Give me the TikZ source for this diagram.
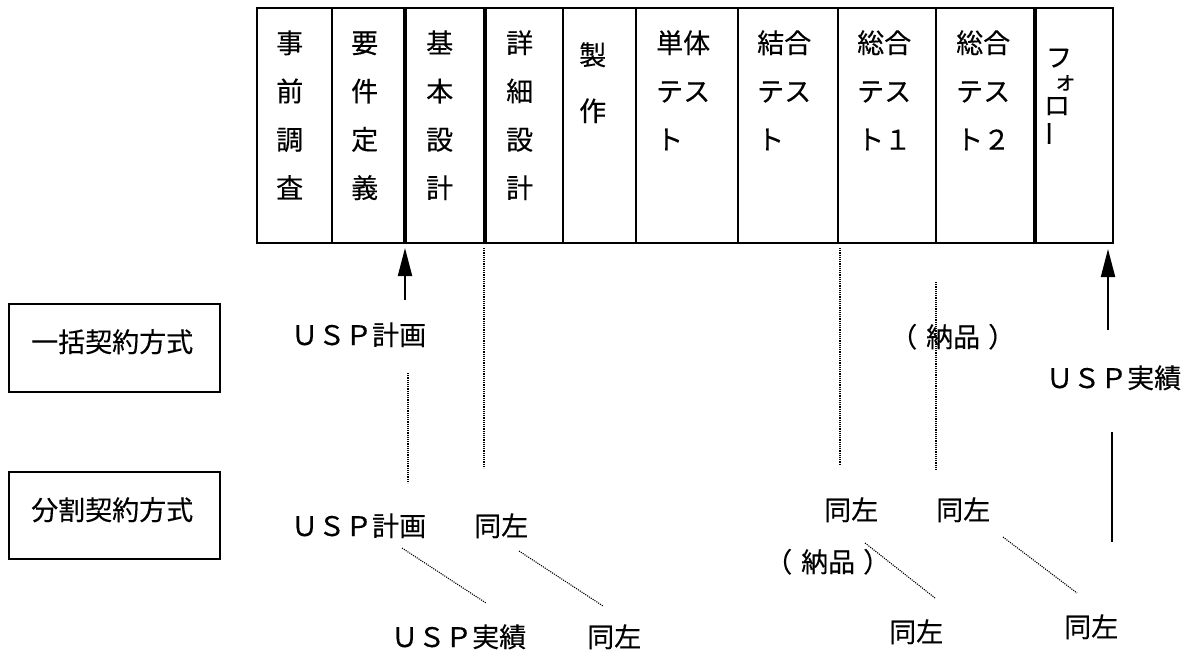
\documentclass[tikz,border=0pt]{standalone}
\usepackage{fontspec}
\setmainfont{Noto Sans CJK JP}[FakeBold=0.3]
\usetikzlibrary{arrows.meta}
\newcommand\colchars[3]{%
  \foreach \c [count=\i] in {#3} {
    \node[txt] (#1-\i) at (#2,{43+48.3*(\i-1)+10}) {\c};
  }%
}
\begin{document}
\begin{tikzpicture}[x=1pt,y=-1pt,
  txt/.style={anchor=base west,inner sep=0pt,font=\fontsize{27}{32}\selectfont},
  ktxt/.style={anchor=center,inner sep=0pt,font=\fontsize{26}{30}\selectfont},
  frame/.style={draw,line width=2pt,inner sep=0pt},
  grid/.style={line width=2pt},
  heavy/.style={line width=4pt},
  dots/.style={line width=1.1pt,dash pattern=on 1.1pt off 1.1pt},
  solid line/.style={line width=2pt},
  arr/.style={line width=2pt,-{Triangle[length=28pt,width=14pt]}},
]
\useasboundingbox (0,0) rectangle (1196,651);

% ---- phase table ----
\node[frame,anchor=north west,minimum width=856pt,minimum height=235pt] (tbl) at (256,7) {};
\foreach \x in {332,563,636,738,838,936} \draw[grid] (\x,7) -- (\x,242);
\foreach \x in {405,485,1035} \draw[heavy] (\x,7) -- (\x,242);

\colchars{c1}{276}{事,前,調,査}
\colchars{c2}{351}{要,件,定,義}
\colchars{c3}{426}{基,本,設,計}
\colchars{c4}{506}{詳,細,設,計}
\node[txt] (c5-1) at (579,65) {製};
\node[txt] (c5-2) at (579,121) {作};
\colchars{c6}{656}{単体,テス,ト}
\colchars{c7}{757}{結合,テス,ト}
\colchars{c8}{857}{総合,テス,ト１}
\colchars{c9}{956}{総合,テス,ト２}
\node[ktxt] (c10-1) at (1059,58) {フ};
\node[ktxt,font=\fontsize{23}{26}\selectfont] (c10-2) at (1065,83) {ォ};
\node[ktxt] (c10-3) at (1057,106) {ロ};
\node[ktxt,rotate=90] (c10-4) at (1053.5,133.5) {ー};

% ---- contract type boxes ----
\node[frame,minimum width=211pt,minimum height=88pt] (box1) at (114.5,348) {};
\node[txt] (lab1) at (31,352) {一括契約方式};
\node[frame,minimum width=211pt,minimum height=87pt] (box2) at (114.5,515.5) {};
\node[txt] (lab2) at (31,520) {分割契約方式};

% ---- upper row (lump-sum) ----
\node[txt] (uplan1) at (291,345) {ＵＳＰ計画};
\node[txt] (deliv1) at (890,347) {（\kern9pt 納品\kern8pt ）};
\node[txt] (uact1) at (1046,388) {ＵＳＰ実績};

% ---- lower rows (split) ----
\node[txt] (uplan2) at (291,536) {ＵＳＰ計画};
\node[txt] (same1) at (474,536) {同左};
\node[txt] (same2) at (824,520) {同左};
\node[txt] (same3) at (936,520) {同左};
\node[txt] (deliv2) at (765,572) {（\kern9pt 納品\kern8pt ）};
\node[txt] (uact2) at (391,647) {ＵＳＰ実績};
\node[txt] (same4) at (587,647) {同左};
\node[txt] (same5) at (889,642) {同左};
\node[txt] (same6) at (1064,637) {同左};

% ---- arrows ----
\coordinate (a1s) at (405,300);
\coordinate (a1e) at (405,248);
\draw[arr] (a1s) -- (a1e);
\coordinate (a2s) at (1108,330);
\coordinate (a2e) at (1108,249);
\draw[arr] (a2s) -- (a2e);
\coordinate (v1s) at (1112,432);
\coordinate (v1e) at (1112,542);
\draw[solid line] (v1s) -- (v1e);

% ---- dotted verticals ----
\coordinate (d1s) at (484,248);  \coordinate (d1e) at (484,468);
\draw[dots] (d1s) -- (d1e);
\coordinate (d2s) at (408,373);  \coordinate (d2e) at (408,483);
\draw[dots] (d2s) -- (d2e);
\coordinate (d3s) at (840,248);  \coordinate (d3e) at (840,464);
\draw[dots] (d3s) -- (d3e);
\coordinate (d4s) at (936,282);  \coordinate (d4e) at (936,471);
\draw[dots] (d4s) -- (d4e);

% ---- dotted diagonals ----
\coordinate (g1s) at (402,548);  \coordinate (g1e) at (486,603);
\draw[dots] (g1s) -- (g1e);
\coordinate (g2s) at (519,551);  \coordinate (g2e) at (603,606);
\draw[dots] (g2s) -- (g2e);
\coordinate (g3s) at (865,543);  \coordinate (g3e) at (935,598);
\draw[dots] (g3s) -- (g3e);
\coordinate (g4s) at (1003,537); \coordinate (g4e) at (1077,593);
\draw[dots] (g4s) -- (g4e);
\end{tikzpicture}
\end{document}
